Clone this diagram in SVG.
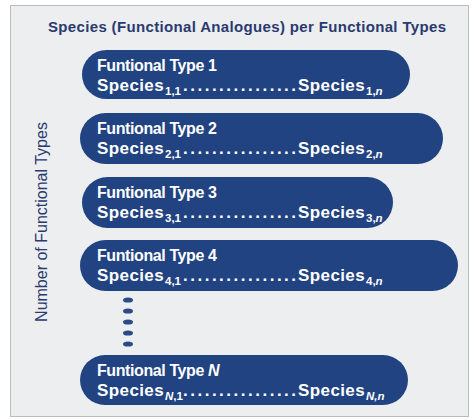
<svg xmlns="http://www.w3.org/2000/svg" width="475" height="420" viewBox="0 0 475 420">
<style>
.frame{fill:#eceef0;stroke:#b9bcc0;stroke-width:1}
.pill{fill:#214381}
.hd{font-family:"Liberation Sans",Arial,sans-serif;font-weight:bold;font-size:16px;letter-spacing:-0.4px;fill:#fff}
.sp{font-family:"Liberation Sans",Arial,sans-serif;font-weight:bold;font-size:17px;letter-spacing:0.4px;fill:#fff}
.sub{font-size:11.5px;letter-spacing:0}
.dots{letter-spacing:2.5px}
.title{font-family:"Liberation Sans",Arial,sans-serif;font-weight:bold;font-size:15px;fill:#2b3a6e}
.axis{font-family:"Liberation Sans",Arial,sans-serif;font-size:16px;fill:#2b3a6e}
.dash{fill:#2b4a86}
</style>
<rect width="475" height="420" fill="#ffffff"/>
<rect class="frame" x="10.5" y="5.5" width="458" height="411"/>
<text class="title" x="48" y="32" textLength="398">Species (Functional Analogues) per Functional Types</text>
<text class="axis" transform="translate(47,222) rotate(-90)" text-anchor="middle">Number of Functional Types</text>

<g id="type1">
<rect class="pill" x="82" y="50" width="328" height="49" rx="24.5"/>
<text class="hd" x="97" y="71">Funtional Type 1</text>
<text class="sp"><tspan x="97" y="91">Species</tspan><tspan class="sub" x="165" y="95">1,1</tspan><tspan class="dots" x="183" y="91">................</tspan><tspan x="298" y="91">Species</tspan><tspan class="sub" x="366" y="95">1,<tspan font-style="italic">n</tspan></tspan></text>
</g>

<g id="type2">
<rect class="pill" x="80" y="113" width="363" height="51" rx="25.5"/>
<text class="hd" x="97" y="134">Funtional Type 2</text>
<text class="sp"><tspan x="97" y="154">Species</tspan><tspan class="sub" x="165" y="158">2,1</tspan><tspan class="dots" x="183" y="154">................</tspan><tspan x="298" y="154">Species</tspan><tspan class="sub" x="366" y="158">2,<tspan font-style="italic">n</tspan></tspan></text>
</g>

<g id="type3">
<rect class="pill" x="82" y="177" width="311" height="51" rx="25.5"/>
<text class="hd" x="97" y="198">Funtional Type 3</text>
<text class="sp"><tspan x="97" y="218">Species</tspan><tspan class="sub" x="165" y="222">3,1</tspan><tspan class="dots" x="183" y="218">................</tspan><tspan x="298" y="218">Species</tspan><tspan class="sub" x="366" y="222">3,<tspan font-style="italic">n</tspan></tspan></text>
</g>

<g id="type4">
<rect class="pill" x="80" y="240" width="378" height="51" rx="25.5"/>
<text class="hd" x="97" y="261">Funtional Type 4</text>
<text class="sp"><tspan x="97" y="281">Species</tspan><tspan class="sub" x="165" y="285">4,1</tspan><tspan class="dots" x="183" y="281">................</tspan><tspan x="298" y="281">Species</tspan><tspan class="sub" x="366" y="285">4,<tspan font-style="italic">n</tspan></tspan></text>
</g>

<g id="ellipsis">
<ellipse class="dash" cx="128" cy="300" rx="5" ry="2.6"/>
<ellipse class="dash" cx="128" cy="311" rx="5" ry="2.6"/>
<ellipse class="dash" cx="128" cy="322" rx="5" ry="2.6"/>
<ellipse class="dash" cx="128" cy="333" rx="5" ry="2.6"/>
<ellipse class="dash" cx="128" cy="344" rx="5" ry="2.6"/>
</g>

<g id="typeN">
<rect class="pill" x="80" y="355" width="328" height="50" rx="25"/>
<text class="hd" x="97" y="376">Funtional Type <tspan font-style="italic">N</tspan></text>
<text class="sp"><tspan x="97" y="396">Species</tspan><tspan class="sub" x="165" y="400"><tspan font-style="italic">N</tspan>,1</tspan><tspan class="dots" x="183" y="396">................</tspan><tspan x="298" y="396">Species</tspan><tspan class="sub" x="366" y="400" font-style="italic">N,n</tspan></text>
</g>

<g id="connectors"></g>
</svg>
